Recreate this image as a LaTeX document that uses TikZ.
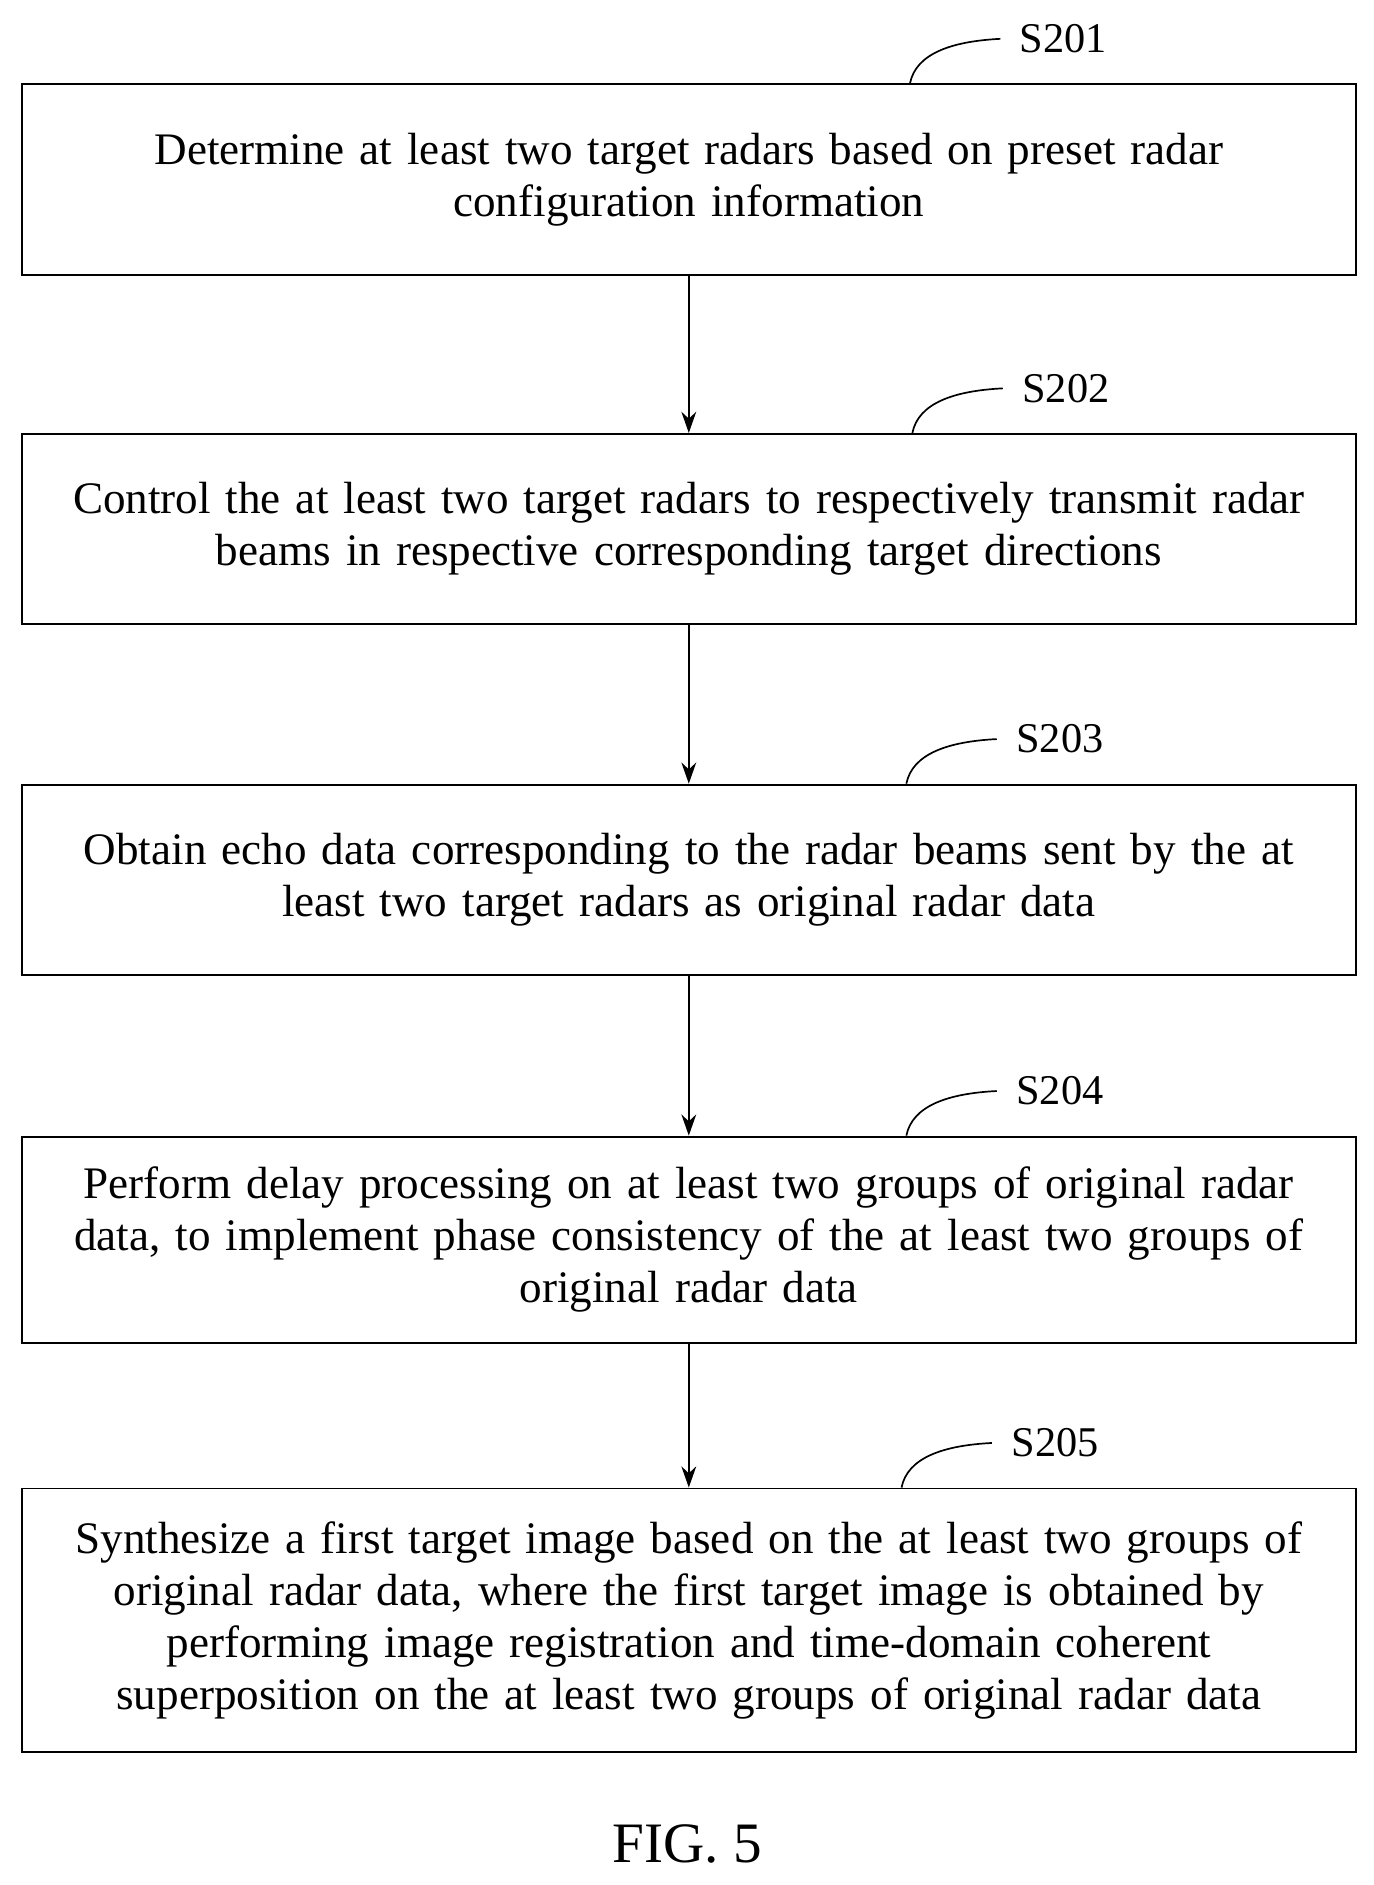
\documentclass[tikz,border=0pt]{standalone}
\usepackage{fontspec}
\setmainfont{Liberation Serif}
\usetikzlibrary{arrows.meta}
\newcommand{\StepFont}{\fontsize{21.3}{24.5}\selectfont}

\begin{document}
\begin{tikzpicture}[x=0.02cm,y=-0.02cm,
  stepbox/.style={draw, line width=0.9pt, minimum width=22.14cm, text width=21.8cm,
    align=center, inner sep=0pt, font=\StepFont},
  flow/.style={-{Stealth[length=10pt,width=7pt]}, line width=0.8pt},
  tag/.style={anchor=west, font=\fontsize{20}{22}\selectfont}]

\useasboundingbox (0,0) rectangle (1140,1564);

\node [stepbox, minimum height=3.16cm] (s201) at (571.5,149)
  {Determine at least two target radars based on preset radar\\configuration information};
\node [stepbox, minimum height=3.16cm] (s202) at (571.5,439)
  {Control the at least two target radars to respectively transmit radar\\beams in respective corresponding target directions};
\node [stepbox, minimum height=3.16cm] (s203) at (571.5,730)
  {Obtain echo data corresponding to the radar beams sent by the at\\least two target radars as original radar data};
\node [stepbox, minimum height=3.42cm] (s204) at (571.5,1028.5)
  {Perform delay processing on at least two groups of original radar\\data, to implement phase consistency of the at least two groups of\\original radar data};
\node [stepbox, minimum height=4.38cm] (s205) at (571.5,1344.5)
  {Synthesize a first target image based on the at least two groups of\\original radar data, where the first target image is obtained by\\performing image registration and time-domain coherent\\superposition on the at least two groups of original radar data};

% arrows between steps
\foreach \a/\b in {s201/s202, s202/s203, s203/s204, s204/s205}
  \draw [flow] (\a.south) -- (\b.north);

% step labels
\foreach \s/\x in {s201/755, s202/757, s203/752, s204/752, s205/748} {
  \draw [line width=0.8pt] (\s.north -| \x,0) .. controls +(5,-25) and +(-40,2) .. ++(75,-37) coordinate (\s-e);
  \node [tag] (\s-t) at ([xshift=0.2cm]\s-e) {\MakeUppercase{\s}};
}

\node [font=\fontsize{27}{30}\selectfont] (fig) at (570,1530) {FIG. 5};
\end{tikzpicture}
\end{document}
